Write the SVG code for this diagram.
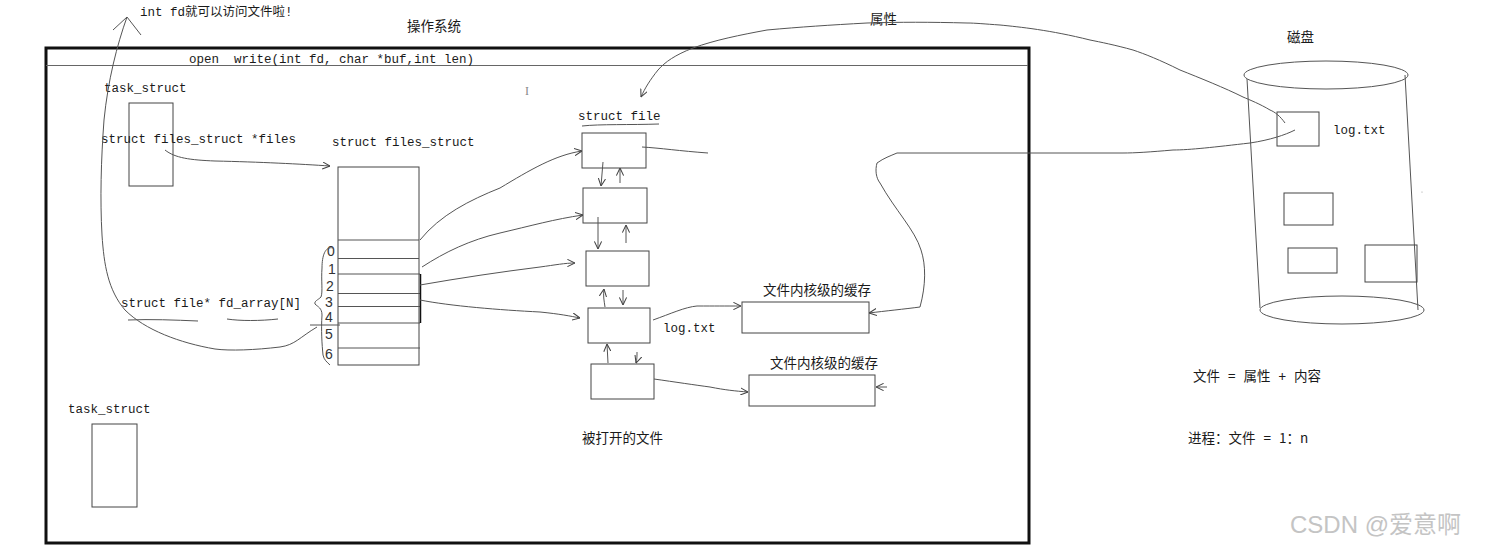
<svg xmlns="http://www.w3.org/2000/svg" width="1485" height="550" viewBox="0 0 1485 550">
<defs>
<style>
.t{font-family:"Liberation Mono","Noto Sans CJK SC",monospace;font-size:12.5px;fill:#1a1a1a}
.c{font-family:"Noto Sans CJK SC","Liberation Sans",sans-serif;font-size:13.5px;fill:#1a1a1a}
.n{font-family:"Liberation Sans",sans-serif;font-size:14px;fill:#333}
.box{fill:none;stroke:#444;stroke-width:1}
.ln{fill:none;stroke:#555;stroke-width:1}
.ar{fill:none;stroke:#555;stroke-width:1;marker-end:url(#arr)}
</style>
<marker id="arr" viewBox="0 0 10 10" refX="9.5" refY="5" markerWidth="8" markerHeight="8" orient="auto" markerUnits="userSpaceOnUse">
<path d="M0,0.5 L9.5,5 L0,9.5" fill="none" stroke="#444" stroke-width="1.3"/>
</marker>
</defs>
<rect width="1485" height="550" fill="#fff"/>

<g id="os">
<rect x="46" y="48" width="983" height="495" fill="none" stroke="#111" stroke-width="3"/>
<line x1="46" y1="65.5" x2="1028" y2="65.5" stroke="#666" stroke-width="1"/>
<text class="t" x="189" y="63" xml:space="preserve">open  write(int fd, char *buf,int len)</text>
<text class="c" x="407" y="31">操作系统</text>
<text x="525" y="95" font-family="Liberation Serif,serif" font-size="12" fill="#888">I</text>
</g>

<g id="task1">
<text class="t" x="104" y="92">task_struct</text>
<rect class="box" x="129" y="103" width="44" height="83"/>
<text class="t" x="101" y="143">struct files_struct *files</text>
</g>

<g id="files_struct">
<text class="t" x="332" y="146">struct files_struct</text>
<rect class="box" x="338" y="167" width="81" height="198"/>
<g stroke="#555" stroke-width="1">
<line x1="338" y1="240" x2="419" y2="240"/>
<line x1="338" y1="258.5" x2="419" y2="258.5"/>
<line x1="338" y1="274" x2="420" y2="274"/>
<line x1="338" y1="293.5" x2="420" y2="293.5"/>
<line x1="338" y1="306.5" x2="420" y2="306.5"/>
<line x1="338" y1="323" x2="420" y2="323"/>
<line x1="338" y1="348" x2="420" y2="348"/>
</g>
<line x1="420.5" y1="274" x2="420.5" y2="323" stroke="#111" stroke-width="1.5"/>
<g class="n" font-size="13">
<text x="327" y="256">0</text>
<text x="328" y="274">1</text>
<text x="326" y="291">2</text>
<text x="325" y="307">3</text>
<text x="325" y="322">4</text>
<text x="325" y="339">5</text>
<text x="325" y="359">6</text>
</g>
<path class="ln" d="M333,248 C325,246 322,256 322,268 C321,280 323,292 321,297 C318,300 314,301 315,304 C318,307 322,308 322,315 C321,330 322,345 323,355 C324,360 327,362 330,365"/>
<text class="t" x="121" y="307">struct file* fd_array[N]</text>
<path class="ln" d="M128,320 C150,319 175,320 198,321"/>
<path class="ln" d="M227,319 C240,321 260,321 278,319"/>
</g>

<g id="task2">
<text class="t" x="68" y="413">task_struct</text>
<rect class="box" x="92" y="424" width="45" height="83"/>
</g>

<g id="struct_file">
<text class="t" x="578" y="120">struct file</text>
<path class="ln" d="M582,126 C600,124 630,125 659,124"/>
<rect class="box" x="582" y="133" width="64" height="35"/>
<rect class="box" x="583" y="188" width="64" height="35"/>
<rect class="box" x="586" y="251" width="63" height="35"/>
<rect class="box" x="588" y="308" width="62" height="35"/>
<rect class="box" x="591" y="364" width="63" height="35"/>
<text class="t" x="663" y="332">log.txt</text>
<text class="c" x="582" y="443">被打开的文件</text>
</g>

<g id="cache1">
<text class="c" x="763" y="295">文件内核级的缓存</text>
<rect class="box" x="742" y="302" width="127" height="31"/>
</g>
<g id="cache2">
<text class="c" x="770" y="368">文件内核级的缓存</text>
<rect class="box" x="749" y="375" width="126" height="31"/>
</g>

<g id="disk">
<text class="c" x="1287" y="42">磁盘</text>
<ellipse cx="1326" cy="75" rx="82" ry="14" class="ln"/>
<line x1="1247" y1="79" x2="1260" y2="308" class="ln"/>
<line x1="1405" y1="75" x2="1418" y2="310" class="ln"/>
<ellipse cx="1342" cy="310" rx="82" ry="14" class="ln"/>
<rect class="box" x="1277" y="112" width="42" height="34"/>
<text class="t" x="1333" y="134">log.txt</text>
<rect class="box" x="1284" y="193" width="49" height="32"/>
<rect class="box" x="1288" y="248" width="49" height="25"/>
<rect class="box" x="1365" y="245" width="52" height="37"/>
<circle cx="1422" cy="192" r="0.6" fill="#999"/>
</g>

<g id="notes">
<text class="c" x="1193" y="381" font-size="14" word-spacing="5">文件 = 属性 + 内容</text>
<text class="c" x="1188" y="443" font-size="14" word-spacing="5">进程：文件 = 1：n</text>
<text class="c" x="870" y="24">属性</text>
<text class="t" x="140" y="16">int fd就可以访问文件啦!</text>
<text x="1290" y="533" font-family="Liberation Sans,Noto Sans CJK SC,sans-serif" font-size="24" fill="#c4c4c4">CSDN @爱意啊</text>
</g>

<g id="connectors">
<path class="ar" d="M165,150 C175,158 190,160 215,161 C260,162 300,164 330,166"/>
<line class="ln" x1="310" y1="325" x2="340" y2="325"/>
<path class="ln" d="M317,327 C300,337 295,345 280,347 C255,350 230,351 215,349 C180,343 145,330 125,310 C108,290 104,265 102,235 C100,200 101,160 104,120 C108,80 117,45 127,17"/>
<path class="ln" d="M113,30 L127,17 L141,35"/>
<path class="ar" d="M420,240 C440,215 470,200 500,188 C530,170 555,155 582,151"/>
<path class="ar" d="M422,267 C445,252 470,240 500,233 C530,226 555,219 583,215"/>
<path class="ar" d="M420,285 C460,278 500,272 540,267 C555,265 565,263 575,263"/>
<path class="ar" d="M420,300 C450,306 500,310 540,312 C560,314 570,316 580,318"/>
<path class="ar" d="M603,162 C602,170 602,178 601,186"/>
<path class="ar" d="M620,183 L620,168"/>
<path class="ar" d="M598,217 L598,249"/>
<path class="ar" d="M626,243 L626,225"/>
<path class="ar" d="M605,307 C604,300 603,296 604,289"/>
<path class="ar" d="M623,290 L623,305"/>
<path class="ar" d="M608,363 L607,344"/>
<path class="ar" d="M637,352 C637,356 637,360 636,363"/>
<path class="ln" d="M642,147 C660,148 680,151 708,153"/>
<path class="ar" d="M653,320 C670,314 685,307 697,306 C715,306 725,306 741,306"/>
<path class="ar" d="M654,379 C675,382 695,385 710,387 C725,390 735,391 748,392"/>
<path class="ar" d="M887,387 L876,387"/>
<path class="ar" d="M1295,130 C1285,135 1270,140 1250,143 C1215,147 1190,150 1173,150 C1150,152 1135,153 1123,153 L897,153 C890,156 884,158 877,163 C875,170 876,178 880,183 C895,210 915,230 921,250 C926,265 926,285 920,307 C905,309 885,311 869,313"/>
<path class="ar" d="M1285,123 C1280,116 1275,112 1270,110 C1260,104 1250,100 1243,97 C1225,88 1200,78 1180,70 C1160,60 1145,54 1133,50 C1115,45 1100,42 1090,40 C1050,30 1020,27 1000,25 C985,24 975,23 967,23 C930,22 900,22 867,23 C830,25 800,27 767,30 C740,35 715,40 693,48 C675,55 665,62 658,70 C650,80 645,88 641,97"/>
</g>
</svg>
